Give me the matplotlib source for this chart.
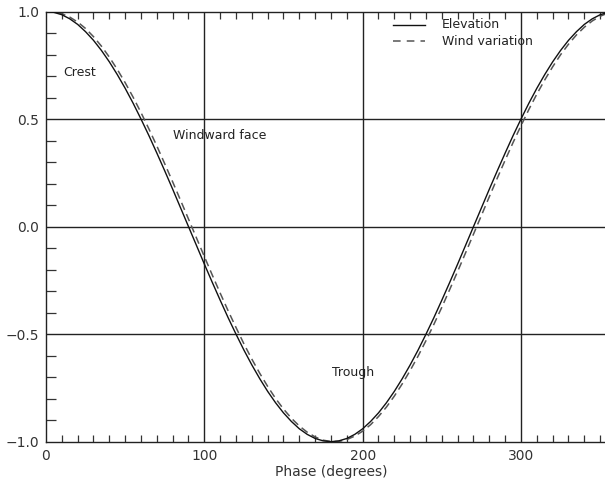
import matplotlib
matplotlib.use("Agg")
import matplotlib.pyplot as plt
from matplotlib.ticker import MultipleLocator

# phase in degrees, values every 5 degrees
phase = list(range(0, 365, 5))

elevation = [1.000, 0.996, 0.985, 0.966, 0.940, 0.906, 0.866, 0.819, 0.766, 0.707,
             0.643, 0.574, 0.500, 0.423, 0.342, 0.259, 0.174, 0.087, 0.000,
             -0.087, -0.174, -0.259, -0.342, -0.423, -0.500, -0.574, -0.643, -0.707,
             -0.766, -0.819, -0.866, -0.906, -0.940, -0.966, -0.985, -0.996, -1.000,
             -0.996, -0.985, -0.966, -0.940, -0.906, -0.866, -0.819, -0.766, -0.707,
             -0.643, -0.574, -0.500, -0.423, -0.342, -0.259, -0.174, -0.087, 0.000,
             0.087, 0.174, 0.259, 0.342, 0.423, 0.500, 0.574, 0.643, 0.707,
             0.766, 0.819, 0.866, 0.906, 0.940, 0.966, 0.985, 0.996, 1.000]

wind_variation = [0.999, 0.999, 0.990, 0.974, 0.951, 0.921, 0.883, 0.839, 0.788, 0.731,
                  0.669, 0.602, 0.530, 0.454, 0.375, 0.292, 0.208, 0.122, 0.035,
                  -0.052, -0.139, -0.225, -0.309, -0.391, -0.469, -0.545, -0.616, -0.682,
                  -0.743, -0.799, -0.848, -0.891, -0.927, -0.956, -0.978, -0.993, -0.999,
                  -0.999, -0.990, -0.974, -0.951, -0.921, -0.883, -0.839, -0.788, -0.731,
                  -0.669, -0.602, -0.530, -0.454, -0.375, -0.292, -0.208, -0.122, -0.035,
                  0.052, 0.139, 0.225, 0.309, 0.391, 0.469, 0.545, 0.616, 0.682,
                  0.743, 0.799, 0.848, 0.891, 0.927, 0.956, 0.978, 0.993, 0.999]

x_grid = [100, 200, 300]
y_grid = [-0.5, 0.0, 0.5]

plt.rcParams['font.family'] = ['DejaVu Sans']

fig = plt.figure(figsize=(6.05, 4.82), dpi=100)
# the original picture is cropped on the right, so the axes run past the edge
ax = fig.add_axes([46 / 605, 40.3 / 482, 570 / 605, 430.2 / 482])

for xv in x_grid:
    ax.axvline(xv, color='#222222', lw=1.0, zorder=1)
for yv in y_grid:
    ax.axhline(yv, color='#222222', lw=1.0, zorder=1)

ax.plot(phase, wind_variation, color='#555555', lw=1.1, dashes=(5, 3), zorder=2)
ax.plot(phase, elevation, color='#111111', lw=1.0, zorder=3)

ax.set_xlim(0, 360)
ax.set_ylim(-1.0, 1.0)
ax.set_xticks([0, 100, 200, 300])
ax.set_yticks([-1.0, -0.5, 0.0, 0.5, 1.0])
ax.set_yticklabels(['\u22121.0', '\u22120.5', '0.0', '0.5', '1.0'])
ax.xaxis.set_minor_locator(MultipleLocator(10))
ax.yaxis.set_minor_locator(MultipleLocator(0.1))
ax.tick_params(which='major', length=0, labelsize=10, labelcolor='#333333', pad=5)
ax.tick_params(axis='x', which='minor', direction='in', length=5, width=0.9,
               top=True, bottom=True, color='#333333')
ax.tick_params(axis='y', which='minor', direction='in', length=7, width=0.9,
               left=True, right=False, color='#333333')
for side in ['left', 'bottom', 'top']:
    ax.spines[side].set_linewidth(1.0)
    ax.spines[side].set_color('#222222')
ax.spines['right'].set_visible(False)

ax.set_xlabel('Phase (degrees)', fontsize=10, color='#333333', labelpad=2)

# labels inside the plot
ax.text(0.030, 0.859, 'Crest', transform=ax.transAxes, fontsize=9, color='#222222', va='center')
ax.text(0.223, 0.711, 'Windward face', transform=ax.transAxes, fontsize=9, color='#222222', va='center')
ax.text(0.502, 0.162, 'Trough', transform=ax.transAxes, fontsize=9, color='#222222', va='center')

# hand-drawn legend like the original
ax.plot([0.609, 0.665], [0.969, 0.969], transform=ax.transAxes, color='#111111', lw=1.0)
ax.plot([0.609, 0.665], [0.931, 0.931], transform=ax.transAxes, color='#555555', lw=1.1, dashes=(5, 4))
ax.text(0.695, 0.969, 'Elevation', transform=ax.transAxes, fontsize=9, color='#222222', va='center')
ax.text(0.695, 0.931, 'Wind variation', transform=ax.transAxes, fontsize=9, color='#222222', va='center')

fig.savefig('out.png', dpi=100)
